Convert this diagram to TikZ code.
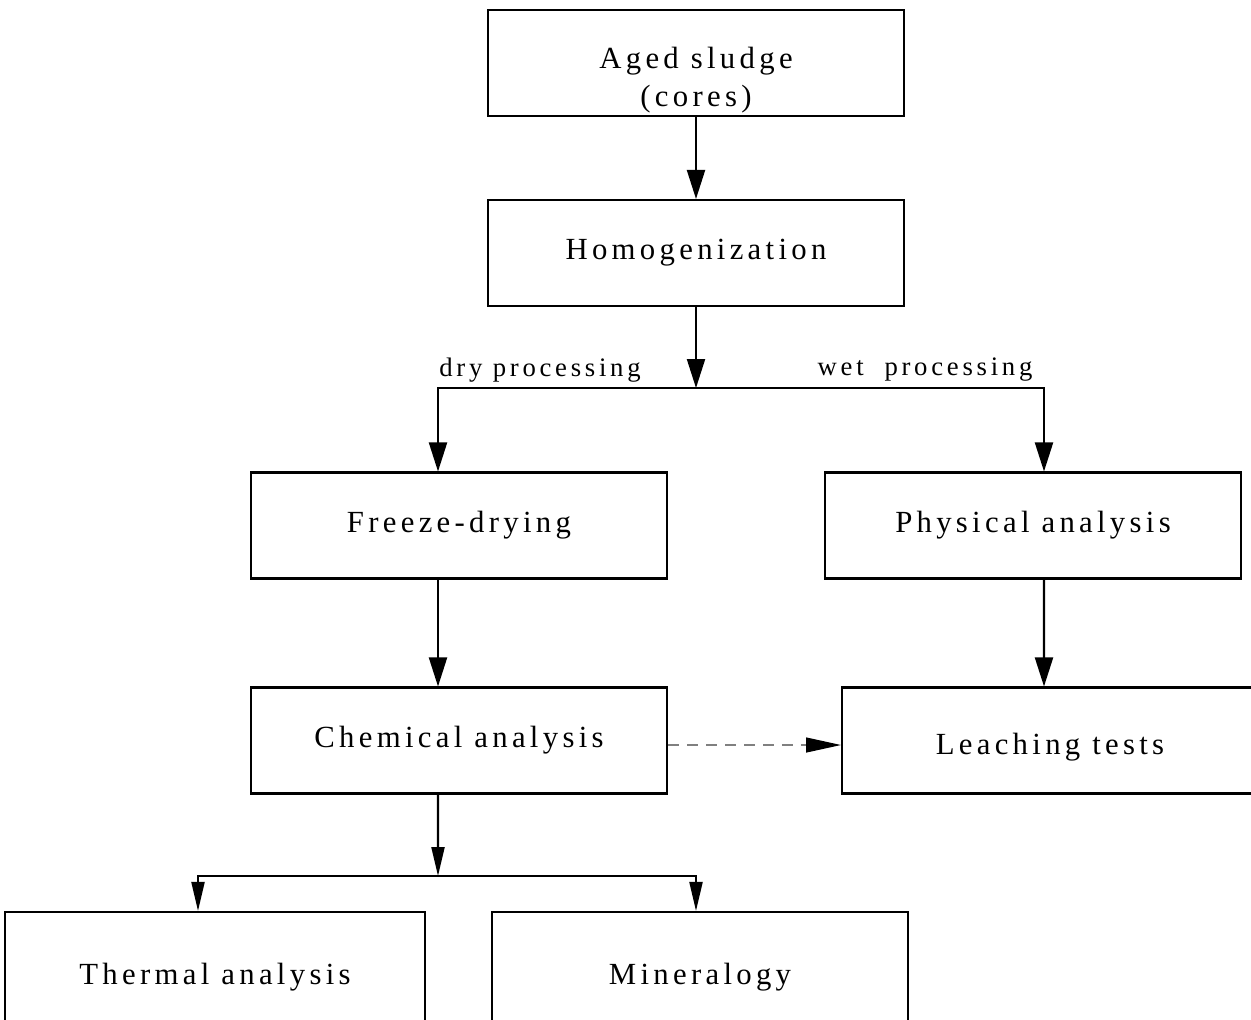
\documentclass[tikz,border=0pt]{standalone}
\usepackage{fontspec}
\setmainfont{Liberation Serif}[LetterSpace=14]
\usepackage{tikz}
\usetikzlibrary{arrows.meta, positioning, calc}

\begin{document}
\begin{tikzpicture}[x=0.02cm, y=-0.02cm,
    step box/.style={rectangle, draw, line width=1.2pt, minimum width=8.32cm, minimum height=2.12cm, align=center, font=\fontsize{17.5}{21.5}\selectfont},
    branch/.style={font=\fontsize{15.2}{18}\selectfont},
    arrow/.style={-{Triangle[length=5.8mm, width=3.6mm]}, line width=1.2pt},
    thinarrow/.style={-{Triangle[length=5.8mm, width=2.6mm]}, line width=1.2pt},
    dasharrow/.style={-{Triangle[length=7mm, width=3mm, color=black]}, gray, dash pattern=on 2.2mm off 1.6mm, line width=0.7pt}
]
\path[use as bounding box, clip] (0,0) rectangle (1251,1019);

% Components
\node[step box, align=none] (aged) at (696,63) {\raisebox{-0.34cm}[\height][\depth]{\begin{tabular}{@{}c@{}}Aged sludge\\(cores)\end{tabular}}};
\node[step box] (homog) at (696,253) {Homogenization};
\node[step box] (freeze) at (459,525.5) {Freeze-drying};
\node[step box] (phys) at (1033,525.5) {Physical analysis};
\node[step box] (chem) at (459,740.5) {Chemical analysis};
\node[step box] (leach) at (1050,740.5) {\raisebox{-0.14cm}[\height][\depth]{Leaching tests}};
\node[step box, minimum width=8.4cm, minimum height=2.6cm] (thermal) at (215,977) {Thermal analysis};
\node[step box, minimum height=2.6cm] (mineral) at (700,977) {Mineralogy};

% Split points
\coordinate (dsplit) at (696,388);
\coordinate (csplit) at (438,876);

% Arrows
\draw[arrow] (aged) -- (homog);
\draw[arrow] (homog.south) -- (dsplit);
\draw[arrow] (dsplit) -| ([xshift=-0.42cm]freeze.north);
\draw[arrow] (dsplit) -| ([xshift=0.22cm]phys.north);
\draw[arrow] ([xshift=-0.42cm]freeze.south) -- ([xshift=-0.42cm]chem.north);
\draw[arrow] ([xshift=0.22cm]phys.south) -- ([xshift=-0.12cm]leach.north);
\draw[dasharrow] ([yshift=-0.09cm]chem.east) -- ([yshift=-0.09cm]leach.west);
\draw[thinarrow] ([xshift=-0.42cm]chem.south) -- (csplit);
\draw[thinarrow] (csplit) -| ([xshift=-0.34cm]thermal.north);
\draw[thinarrow] (csplit) -| ([xshift=-0.08cm]mineral.north);

% Labels
\node[branch] (dry) at (540,370) {dry processing};
\node[branch] (wet) at (925,370) {wet\ \ processing};

\end{tikzpicture}
\end{document}
